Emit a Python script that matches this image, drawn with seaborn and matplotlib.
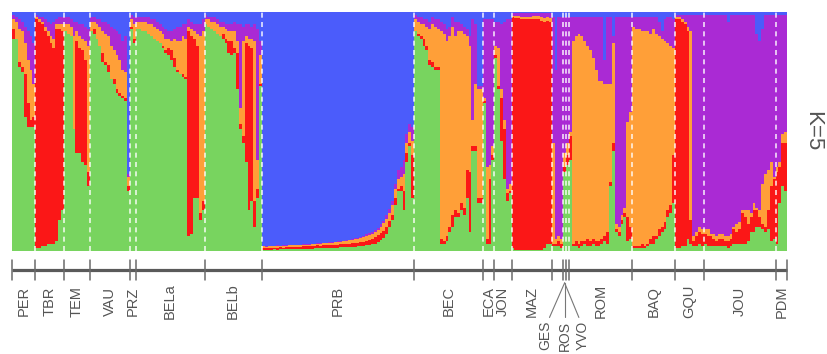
import matplotlib
matplotlib.use("Agg")
import matplotlib.pyplot as plt
import seaborn as sns
import pandas as pd
import numpy as np

# each individual: cumulative tops in % of (green, red, orange, purple); blue fills up to 100
PER = [(89, 93, 97, 99), (89, 89, 96, 98), (77, 79, 93, 97), (75, 77, 92, 96), (56, 74, 87, 94),
       (52, 62, 80, 92), (52, 55, 76, 90), (52, 56, 70, 87)]
TBR = [(1, 97, 98, 99), (1, 96, 97, 98), (2, 95, 96, 98), (2, 92, 94, 97), (3, 90, 92, 96),
       (3, 87, 90, 95), (3, 85, 89, 96), (4, 93, 95, 97), (13, 93, 95, 98), (17, 92, 95, 98)]
TEM = [(92, 92, 95, 98), (91, 91, 95, 98), (90, 90, 94, 97), (51, 51, 90, 96), (41, 88, 92, 96),
       (41, 85, 90, 95), (37, 84, 89, 95), (36, 80, 88, 94), (27, 33, 86, 93)]
VAU = [(92, 92, 96, 98), (91, 93, 96, 98), (89, 89, 95, 97), (86, 86, 94, 97), (79, 83, 92, 96),
       (78, 79, 91, 96), (75, 78, 90, 95), (72, 72, 86, 94), (70, 72, 84, 93), (66, 68, 82, 92),
       (65, 66, 80, 91), (64, 65, 76, 88), (63, 64, 75, 90), (25, 27, 31, 32)]
PRZ = [(93, 94, 97, 99), (87, 89, 95, 98)]
BELa = [(93, 93, 96, 98), (93, 93, 96, 98), (92, 92, 96, 98), (92, 92, 96, 98), (91, 91, 95, 98),
        (90, 90, 95, 97), (89, 89, 94, 97), (88, 88, 93, 96), (87, 87, 92, 95), (85, 86, 91, 94),
        (83, 84, 89, 93), (82, 85, 89, 92), (80, 84, 88, 92), (77, 81, 89, 93), (75, 76, 88, 94),
        (74, 74, 88, 94), (73, 74, 90, 95), (72, 73, 89, 95), (6, 92, 94, 97), (7, 90, 93, 96),
        (22, 89, 92, 95), (22, 86, 91, 95), (13, 16, 90, 95), (17, 21, 92, 97)]
BELb = [(95, 95, 97, 99), (94, 94, 97, 98), (93, 93, 96, 98), (92, 92, 96, 98), (91, 91, 95, 97),
        (90, 90, 94, 96), (89, 91, 94, 96), (87, 89, 93, 95), (83, 88, 92, 95), (82, 88, 92, 95),
        (83, 85, 92, 96), (68, 83, 88, 95), (51, 53, 60, 95), (45, 48, 88, 94), (37, 87, 90, 95),
        (17, 86, 89, 95), (21, 85, 89, 94), (10, 21, 88, 95), (22, 26, 38, 93), (69, 70, 82, 88)]
PRB = [(0.5, 1.2, 1.8, 2.0), (0.5, 1.0, 1.7, 2.0), (0.5, 1.2, 1.9, 2.1), (0.5, 1.1, 1.8, 2.0),
       (0.6, 1.3, 1.9, 2.1), (0.5, 1.2, 2.0, 2.2), (0.6, 1.4, 1.9, 2.1), (0.6, 1.3, 2.1, 2.3),
       (0.6, 1.5, 2.0, 2.2), (0.7, 1.4, 2.2, 2.4), (0.7, 1.6, 2.2, 2.4), (0.7, 1.5, 2.3, 2.5),
       (0.8, 1.7, 2.3, 2.5), (0.8, 1.6, 2.4, 2.6), (0.8, 1.8, 2.5, 2.7), (0.9, 1.8, 2.6, 2.8),
       (0.9, 2.0, 2.6, 2.8), (0.9, 1.9, 2.7, 2.9), (1.0, 2.1, 2.8, 3.0), (1.0, 2.2, 2.9, 3.1),
       (1.0, 2.1, 3.0, 3.2), (1.1, 2.3, 3.1, 3.3), (1.1, 2.4, 3.2, 3.4), (1.2, 2.3, 3.3, 3.5),
       (1.2, 2.5, 3.4, 3.6), (1.3, 2.6, 3.5, 3.8), (1.3, 2.5, 3.6, 3.9), (1.4, 2.7, 3.8, 4.1),
       (1.4, 2.8, 3.9, 4.2), (1.5, 2.9, 4.1, 4.4), (1.6, 3.0, 4.3, 4.6), (1.6, 3.2, 4.5, 4.9),
       (1.7, 3.1, 4.8, 5.2), (1.8, 3.4, 5.1, 5.5), (1.9, 3.6, 5.4, 5.9), (2.0, 3.8, 5.8, 6.3),
       (2.2, 4.1, 6.2, 6.8), (2.4, 4.4, 6.7, 7.3), (2.7, 4.9, 7.2, 8.0), (3.0, 5.6, 7.8, 8.7),
       (3.6, 6.4, 8.6, 9.6), (4.4, 7.4, 9.9, 11), (5.5, 8.2, 11.5, 12.6), (7.2, 10, 13.4, 14.8),
       (10, 12.5, 16, 17.5), (13, 15, 19, 21), (19, 22, 26, 28), (25, 26, 30, 34),
       (25, 27, 31, 35), (17, 25, 32, 38), (37, 41, 45, 49), (44, 45, 50, 53), (22, 40, 46, 52)]
BEC = [(92, 92, 97, 99), (90, 91, 96, 98), (89, 90, 95, 98), (86, 89, 95, 97), (84, 86, 94, 97),
       (78, 80, 93, 96), (77, 79, 95, 98), (76, 77, 94, 97), (76, 77, 93, 97), (3, 5, 92, 96),
       (3, 4, 91, 95), (4, 6, 88, 93), (8, 10, 90, 94), (10, 15, 94, 98), (14, 17, 90, 96),
       (14, 16, 92, 96), (17, 20, 92, 95), (15, 18, 91, 94), (22, 34, 90, 93), (8, 33, 86, 90),
       (42, 44, 55, 97), (42, 44, 70, 95), (20, 22, 68, 69), (20, 22, 68, 69)]
ECA = [(62, 63, 64, 97), (3, 5, 35, 97), (3, 30, 36, 97), (38, 40, 44, 97)]
JON = [(81, 82, 86, 96), (68, 69, 85, 96), (46, 64, 68, 95), (30, 51, 55, 96), (21, 24, 26, 97),
       (24, 25, 28, 97)]
MAZ = [(1, 98, 98.5, 99.5), (0.5, 97.5, 98.5, 99.5), (0.5, 97.5, 98.5, 99.5), (0.5, 97, 98, 99.5),
       (0.5, 97, 98, 99.5), (0.5, 97, 98, 99.5), (0.5, 97, 98, 99.5), (0.5, 97, 98.5, 99.5),
       (0.5, 97, 98.5, 99.5), (0.5, 97, 98.5, 99.5), (0.5, 96.5, 98, 99.5), (1, 96, 97.5, 99.5),
       (3, 96.5, 98, 99.5), (3, 96, 97.5, 99.5)]
GES = [(2, 3, 45, 98), (2, 3, 5, 76), (2, 4, 6, 98), (1, 3, 5, 98)]
ROS = [(33, 35, 41, 98)]
YVO = [(36, 40, 45, 98)]
ROM = [(38, 48, 50, 98), (2, 3, 88, 98), (2, 4, 90, 98), (1, 3, 91, 98), (2, 4, 90, 98),
       (3, 4, 88, 98), (2, 5, 86, 98), (2, 4, 84, 98), (3, 5, 81, 98), (2, 4, 76, 98),
       (2, 4, 71, 98), (3, 5, 71, 98), (4, 6, 70, 80), (3, 8, 70, 98), (27, 29, 70, 98),
       (42, 45, 87, 90), (8, 9, 11, 98), (6, 8, 10, 98), (11, 13, 15, 98), (14, 16, 18, 98),
       (4, 14, 54, 98), (5, 10, 58, 98)]
BAQ = [(1, 2, 94, 98), (1, 2, 93, 98), (1, 2, 93, 98), (1, 3, 92, 98), (1, 2, 92, 98),
       (2, 3, 92, 98), (3, 5, 91, 98), (3, 6, 93, 98), (5, 6, 91, 98), (6, 9, 90, 96),
       (8, 10, 89, 92), (9, 12, 88, 97), (14, 17, 87, 98), (16, 19, 86, 98), (20, 40, 85, 97)]
GQU = [(1, 97, 98, 99), (1, 97, 98, 99), (2, 96, 97, 99), (2, 95, 96, 99), (5, 92, 94, 99),
       (3, 13, 92, 99), (2, 4, 6, 99), (2, 6, 8, 99), (3, 8, 10, 99), (2, 7, 9, 99)]
JOU = [(3, 7, 9, 99), (2, 6, 9, 99), (2, 6, 7, 99), (2, 5, 7, 99), (2, 4, 6, 99),
       (2, 5, 7, 99), (2, 5, 7, 99), (2, 4, 6, 99), (1, 4, 6, 96), (2, 5, 7, 99),
       (3, 9, 10, 99), (3, 8, 11, 99), (3, 9, 12, 99), (3, 16, 17, 99), (3, 14, 17, 99),
       (4, 11, 17, 99), (8, 14, 16, 99), (8, 17, 20, 99), (10, 17, 18, 91), (10, 14, 17, 88),
       (9, 11, 28, 93), (8, 10, 32, 99), (9, 17, 34, 99), (4, 27, 37, 99), (5, 30, 31, 99)]
PDM = [(3, 33, 35, 99), (20, 35, 37, 99), (27, 45, 49, 99), (25, 45, 50, 99)]

pops = ["PER", "TBR", "TEM", "VAU", "PRZ", "BELa", "BELb", "PRB", "BEC", "ECA", "JON",
        "MAZ", "GES", "ROS", "YVO", "ROM", "BAQ", "GQU", "JOU", "PDM"]
members = [PER, TBR, TEM, VAU, PRZ, BELa, BELb, PRB, BEC, ECA, JON,
           MAZ, GES, ROS, YVO, ROM, BAQ, GQU, JOU, PDM]
fanned = ["GES", "ROS", "YVO"]

colors = {"blue": "#4b5cfb", "purple": "#aa2ad4", "orange": "#ff9f38",
          "red": "#fb1717", "green": "#78d45f"}

rows = []
for name, inds in zip(pops, members):
    for g, r, o, p in inds:
        rows.append({"pop": name, "green": g, "red": r, "orange": o, "purple": p, "blue": 100})
df = pd.DataFrame(rows)
df["ind"] = np.arange(len(df))
N = len(df)

sns.set_style("white")
plt.rcParams["font.family"] = ["Liberation Sans", "DejaVu Sans"]

fig = plt.figure(figsize=(8.28, 3.54), dpi=100)
ax = fig.add_axes([12.3 / 828, 103.3 / 354, 774.7 / 828, 238.4 / 354])

# stacked bars drawn as overlapping cumulative layers
for layer in ["blue", "purple", "orange", "red", "green"]:
    sns.barplot(data=df, x="ind", y=layer, color=colors[layer], width=1, saturation=1,
                linewidth=0, antialiased=False, errorbar=None, ax=ax)

ax.set_xlim(-0.5, N - 0.5)
ax.set_ylim(0, 100)
ax.set_axis_off()

sizes = [len(m) for m in members]
bounds = np.concatenate([[0], np.cumsum(sizes)]) - 0.5
centers = (bounds[:-1] + bounds[1:]) / 2

for b in bounds[1:-1]:
    ax.axvline(b, color="white", lw=1.2, ls=(0, (3, 2.6)), alpha=0.85)

trans = ax.get_xaxis_transform()
ax.plot([bounds[0], bounds[-1]], [-0.081, -0.081], transform=trans, color="#5a5a5a",
        lw=2.3, clip_on=False, solid_capstyle="butt")
for b in bounds:
    ax.plot([b, b], [-0.04, -0.122], transform=trans, color="#6a6a6a", lw=1.1, clip_on=False)

txt = "#555555"
for name, c in zip(pops, centers):
    if name in fanned:
        continue
    ax.text(c, -0.212, name, rotation=90, ha="center", va="center", fontsize=10.5,
            color=txt, transform=trans)

apex = centers[pops.index("ROS")]
offsets = {"GES": -6.6, "ROS": 0, "YVO": 6.2}
for name in fanned:
    off = offsets[name]
    ax.plot([apex, apex + off * 0.8], [-0.135, -0.28], transform=trans, color="#777777",
            lw=0.8, clip_on=False)
    ax.text(apex + off, -0.295, name, rotation=90, ha="center", va="top", fontsize=10,
            color=txt, transform=trans)

fig.text(813 / 828, 1 - 131 / 354, "K=5", rotation=-90, ha="center", va="center",
         fontsize=16, color=txt)

fig.savefig("out.png", dpi=100)
